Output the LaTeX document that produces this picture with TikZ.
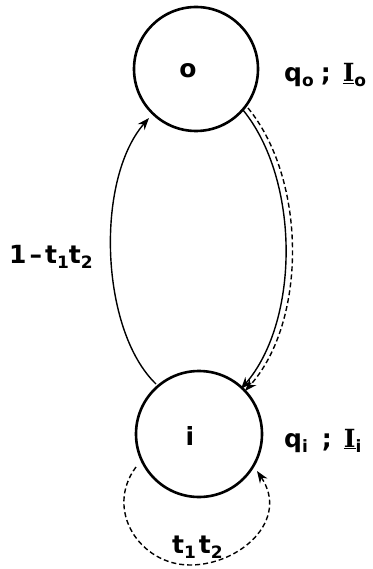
\documentclass[tikz,border=0pt]{standalone}
\usepackage{fontspec}
\setmainfont{DejaVu Sans}
\newfontfamily\serifI{DejaVu Serif}
\usetikzlibrary{arrows.meta}
\newcommand\sbs[1]{\raisebox{-5pt}{\fontsize{17}{17}\selectfont #1}}
\newcommand\bigI{\underline{\serifI\bfseries I}}
\begin{document}
\begin{tikzpicture}[x=1pt,y=-1pt,
  state/.style={circle,draw,line width=2.6pt,inner sep=0pt},
  lbl/.style={font=\fontsize{25}{28}\selectfont\bfseries,inner sep=0pt},
  arc/.style={line width=1.4pt,-{Stealth[length=12pt,width=9pt]}},
  darc/.style={line width=1.4pt,dash pattern=on 5pt off 3pt,-{Stealth[length=12pt,width=9pt]}}]
\useasboundingbox (0,0) rectangle (372,569);
\node[state,minimum size=124pt] (O) at (196,69) {};
\node[state,minimum size=126pt] (I) at (199,434) {};
\node[lbl,anchor=base] (o) at (188,78) {o};
\node[lbl,anchor=base] (i) at (190,445) {i};
\node[lbl,anchor=base west] (lo) at (284,82) {q\sbs{o}\hspace{7pt};\hspace{12pt}\bigI\sbs{o}};
\node[lbl,anchor=base west] (li) at (284,447) {q\sbs{i}\hspace{14pt};\hspace{12pt}\bigI\sbs{i}};
\node[lbl,anchor=base west] (l1) at (9,263) {1\hspace{3pt}–\hspace{3pt}t\sbs{1}t\sbs{2}};
\node[lbl,anchor=base west] (l2) at (172,553) {t\sbs{1}\hspace{3pt}t\sbs{2}};
\coordinate (a1) at (156,384);
\coordinate (a2) at (149,118);
\coordinate (b1) at (243,110);
\coordinate (b2) at (241,389);
\coordinate (c1) at (248,108);
\coordinate (c2) at (245,391);
\coordinate (d1) at (136,467);
\coordinate (d2) at (190,565);
\coordinate (d3) at (257,471);
\draw[arc] (a1) .. controls (100,330) and (95,180) .. (a2);
\draw[arc] (b1) .. controls (300,180) and (300,320) .. (b2);
\draw[darc] (c1) .. controls (307,180) and (307,322) .. (c2);
\draw[darc] (d1) .. controls (104,510) and (140,565) .. (d2) .. controls (240,565) and (290,520) .. (d3);
\end{tikzpicture}
\end{document}
